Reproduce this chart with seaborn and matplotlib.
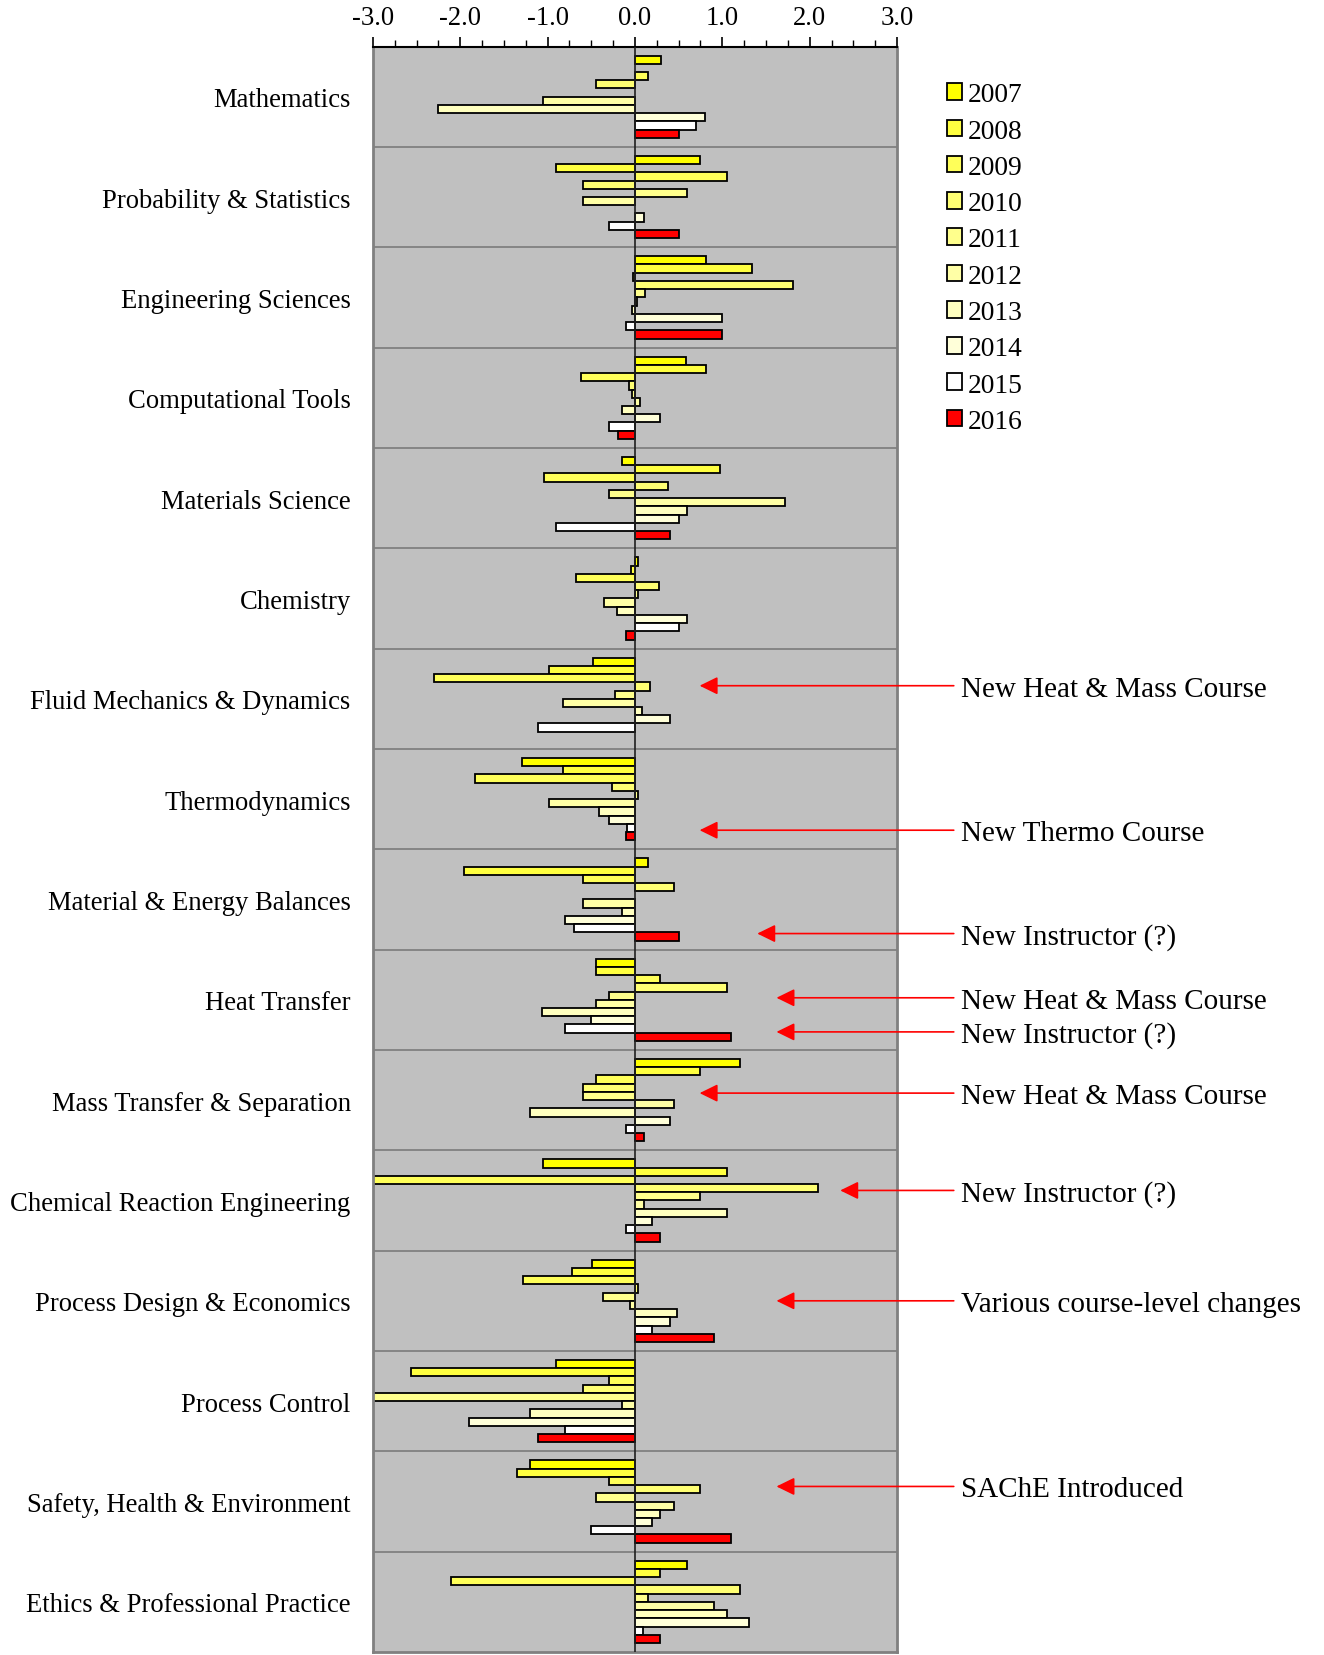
import numpy as np
import pandas as pd
import matplotlib
matplotlib.use("Agg")
import matplotlib.pyplot as plt
import seaborn as sns
from matplotlib.ticker import MultipleLocator, FormatStrFormatter
from matplotlib.patches import Patch

# Categories (top to bottom) and yearly values
categories = [
    "Mathematics", "Probability & Statistics", "Engineering Sciences",
    "Computational Tools", "Materials Science", "Chemistry",
    "Fluid Mechanics & Dynamics", "Thermodynamics", "Material & Energy Balances",
    "Heat Transfer", "Mass Transfer & Separation", "Chemical Reaction Engineering",
    "Process Design & Economics", "Process Control",
    "Safety, Health & Environment", "Ethics & Professional Practice",
]
years = ["2007", "2008", "2009", "2010", "2011", "2012", "2013", "2014", "2015", "2016"]
nan = np.nan

v2007 = [0.30, 0.75, 0.81, 0.58, -0.15, 0.04, -0.48, -1.29, 0.15, -0.45, 1.20, -1.05, -0.49, -0.90, -1.20, 0.60]
v2008 = [nan, -0.90, 1.34, 0.81, 0.97, -0.05, -0.99, -0.82, -1.96, -0.45, 0.75, 1.05, -0.72, -2.56, -1.35, 0.29]
v2009 = [0.15, 1.05, -0.02, -0.62, -1.04, -0.67, -2.30, -1.83, -0.60, 0.29, -0.45, -3.30, -1.28, -0.30, -0.30, -2.11]
v2010 = [-0.45, -0.60, 1.81, -0.07, 0.38, 0.28, 0.17, -0.26, 0.45, 1.05, -0.60, 2.10, 0.03, -0.60, 0.75, 1.20]
v2011 = [nan, 0.60, 0.12, -0.03, -0.30, 0.03, -0.23, 0.04, nan, -0.30, -0.60, 0.75, -0.37, -3.30, -0.45, 0.15]
v2012 = [-1.05, -0.60, 0.02, 0.06, 1.72, -0.35, -0.82, -0.99, -0.60, -0.45, 0.45, 0.10, -0.06, -0.15, 0.45, 0.90]
v2013 = [-2.26, nan, -0.03, -0.15, 0.60, -0.21, 0.08, -0.41, -0.15, -1.06, -1.20, 1.05, 0.48, -1.20, 0.29, 1.05]
v2014 = [0.80, 0.10, 1.00, 0.29, 0.50, 0.60, 0.40, -0.30, -0.80, -0.50, 0.40, 0.19, 0.40, -1.90, 0.19, 1.30]
v2015 = [0.70, -0.30, -0.10, -0.30, -0.90, 0.50, -1.11, -0.09, -0.70, -0.80, -0.10, -0.10, 0.19, -0.80, -0.50, 0.09]
v2016 = [0.50, 0.50, 1.00, -0.20, 0.40, -0.10, nan, -0.10, 0.50, 1.10, 0.10, 0.29, 0.90, -1.11, 1.10, 0.29]

colors = ["#FFFF00", "#FFFF40", "#FFFF59", "#FFFF73", "#FFFF8C",
          "#FFFFA6", "#FFFFBF", "#FFFFD9", "#FFFFFF", "#FF0000"]

# Annotations: text, arrow y (category units), arrow head x (value units)
note_text = ["New Heat & Mass Course", "New Thermo Course", "New Instructor (?)",
             "New Heat & Mass Course", "New Instructor (?)", "New Heat & Mass Course",
             "New Instructor (?)", "Various course-level changes", "SAChE Introduced"]
note_y = [5.87, 7.31, 8.34, 8.98, 9.32, 9.93, 10.90, 12.00, 13.85]
note_head = [0.74, 0.74, 1.40, 1.62, 1.62, 0.74, 2.35, 1.62, 1.62]

series = [v2007, v2008, v2009, v2010, v2011, v2012, v2013, v2014, v2015, v2016]
rows = []
for yr, vals in zip(years, series):
    for cat, v in zip(categories, vals):
        rows.append({"category": cat, "year": yr, "value": v})
df = pd.DataFrame(rows)

sns.set_style("white")
plt.rcParams["font.family"] = ["Liberation Serif", "DejaVu Serif"]
plt.rcParams["axes.unicode_minus"] = False
plt.rcParams["text.color"] = "black"
plt.rcParams["xtick.color"] = "black"
plt.rcParams["ytick.color"] = "black"
plt.rcParams["axes.labelcolor"] = "black"
fs = 19.2

fig = plt.figure(figsize=(13.24, 16.56), dpi=100)
ax = fig.add_axes([0.2817, 0.0018, 0.3958, 0.9695])
ax.set_facecolor("#C0C0C0")

sns.barplot(data=df, y="category", x="value", hue="year", order=categories,
            hue_order=years, palette=colors, saturation=1, orient="h", width=0.82,
            errorbar=None, edgecolor="black", linewidth=1.3, legend=False, ax=ax)

ax.set_xlim(-3, 3)
ax.set_ylim(len(categories) - 0.5, -0.5)
for b in np.arange(0.5, len(categories) - 0.5, 1.0):
    ax.axhline(b, color="#808080", lw=1.3, zorder=0.5)
ax.axvline(0, color="#202020", lw=1.2, zorder=3)

ax.xaxis.tick_top()
ax.xaxis.set_major_locator(MultipleLocator(1.0))
ax.xaxis.set_minor_locator(MultipleLocator(0.25))
ax.xaxis.set_major_formatter(FormatStrFormatter("%.1f"))
ax.tick_params(axis="x", which="major", direction="out", length=7, width=1.2,
               labelsize=fs, pad=5, color="black", labelcolor="black")
ax.tick_params(axis="x", which="minor", direction="out", length=5, width=1.0,
               color="black", top=True, bottom=False)
ax.tick_params(axis="y", length=0, labelsize=fs, pad=16, labelcolor="black")
ax.set_xlabel("")
ax.set_ylabel("")
for name, sp in ax.spines.items():
    sp.set_color("#808080")
    sp.set_linewidth(2)
ax.spines["top"].set_color("black")
ax.spines["top"].set_linewidth(1.5)

handles = [Patch(facecolor=c, edgecolor="black", linewidth=1.3) for c in colors]
ax.legend(handles, years, loc="upper left", bbox_to_anchor=(0.705, 0.958),
          bbox_transform=fig.transFigure, frameon=False, fontsize=19.8,
          handlelength=0.55, handleheight=0.55, handletextpad=0.2,
          labelspacing=0.41, borderpad=0, labelcolor="black")

for t, y, hx in zip(note_text, note_y, note_head):
    ax.annotate("", xy=(hx, y), xytext=(3.65, y), annotation_clip=False,
                arrowprops=dict(arrowstyle="-|>,head_length=0.55,head_width=0.27",
                                mutation_scale=20, color="#FF0000", lw=1.2,
                                shrinkA=0, shrinkB=0))
    ax.text(3.73, y + 0.03, t, fontsize=21, va="center", ha="left",
            color="black", clip_on=False)

fig.savefig("out.png", dpi=100)
